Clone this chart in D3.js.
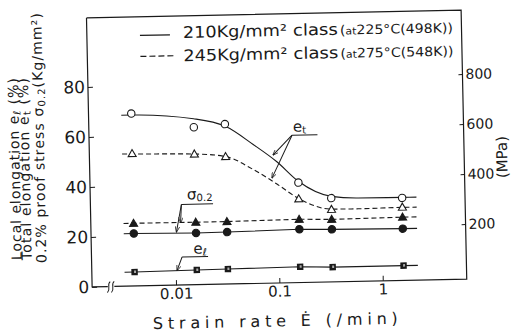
<!DOCTYPE html>
<html>
<head>
<meta charset="utf-8">
<script src="https://cdn.jsdelivr.net/npm/d3@7/dist/d3.min.js"></script>
<style>
  body { margin: 0; background: #fff; }
  svg { display: block; font-family: "DejaVu Sans", sans-serif; }
</style>
</head>
<body>
<svg id="chart" width="512" height="333"></svg>
<script>
// strain rate of the test points (/min)
const rates = [0.004, 0.016, 0.032, 0.16, 0.33, 1.6];
// total elongation et (%)
const et210 = [69, 63, 64, 40, 33.5, 33];
const et245 = [53, 52.3, 51, 33.5, 29, 29.3];
// 0.2% proof stress (kg/mm2)
const proof210 = [21, 20.7, 20.8, 21.3, 21, 20.7];
const proof245 = [25.1, 25, 25, 25.3, 25, 25.3];
// local elongation el (%)
const elocal = [5.6, 5.9, 6, 6.3, 5.9, 5.9];

// the hand drawn et curves
const fitRates = [0.0032, 0.004, 0.016, 0.032, 0.06, 0.1, 0.16, 0.33, 0.6, 1.6, 2.2];
const fitEt210 = [68.4, 68.4, 66.4, 63.2, 55.5, 48.5, 40.5, 34.2, 33.3, 33.2, 33.2];
const fitEt245 = [52.9, 52.8, 52.3, 51, 45.4, 39.5, 33.6, 29.1, 29, 29.2, 29.2];
// where the flat lines start and stop
const lineFrom = 0.0032, lineTo = 2.2;

// ticks
const xTicks = [0.01, 0.1, 1];
const xTickLabels = ["0.01", "0.1", "1"];
const yTicks = [0, 20, 40, 60, 80];
const mpaTicks = [200, 400, 600, 800];

// leader notes (rate, value)
const etLeader = [[0.25, 59], [0.142, 59]];
const etTips = [[0.092, 51.2], [0.089, 42]];
const etLabel = [0.145, 60.4];
const sigLeader = [[0.0237, 32.2], [0.0117, 32.2]];
const sigTips = [[0.01035, 21.2], [0.0114, 24.8]];
const sigLabel = [0.0133, 34.2];
const elLeader = [[0.0207, 11.2], [0.0116, 11.2]];
const elTips = [[0.0103, 5.8]];
const elLabel = [0.015, 12.4];

// plot box
const boxL = 89.3, boxR = 464, boxT = 14, boxB = 283;

const x = d3.scaleLog().domain([0.01, 1]).range([173.2, 380]);
const y = d3.scaleLinear().domain([0, 80]).range([283, 83]);
const yMpa = d3.scaleLinear().domain([0, 800]).range([278, 78]);

const ink = "#1a1a1a";
const svg = d3.select("#chart");

// arrow head for the leaders
svg.append("defs").append("marker")
    .attr("id", "arr")
    .attr("viewBox", "0 0 8 6")
    .attr("refX", 7.5).attr("refY", 3)
    .attr("markerWidth", 6).attr("markerHeight", 5)
    .attr("markerUnits", "userSpaceOnUse")
    .attr("orient", "auto")
  .append("path")
    .attr("d", "M0,0 L8,3 L0,6")
    .attr("fill", "none")
    .attr("stroke", ink)
    .attr("stroke-width", 1);

// the scan is a little tilted, so is the whole drawing
const g = svg.append("g").attr("transform", "rotate(-1.2, 277, 150)");

// frame, with the break on the bottom axis
g.append("path")
    .attr("d", `M${boxL},${boxT} H${boxR} V${boxB} H111.5 M105,${boxB} H${boxL} V${boxT}`)
    .attr("fill", "none").attr("stroke", ink).attr("stroke-width", 1.2);
[106, 110].forEach(bx => {
  g.append("path")
    .attr("d", `M${bx + 1.5},${boxB - 5} C${bx - 2.5},${boxB - 2} ${bx + 2.5},${boxB + 2} ${bx - 1.5},${boxB + 6}`)
    .attr("fill", "none").attr("stroke", ink).attr("stroke-width", 1);
});

// axes
const yAxis = g.append("g")
    .attr("transform", `translate(${boxL},0)`)
    .call(d3.axisLeft(y).tickValues(yTicks).tickSize(-5).tickPadding(3));
yAxis.selectAll("text").attr("font-size", 17);

const rAxis = g.append("g")
    .attr("transform", `translate(${boxR},0)`)
    .call(d3.axisRight(yMpa).tickValues(mpaTicks).tickSize(-4).tickPadding(3));
rAxis.selectAll("text").attr("font-size", 14);

const xAxis = g.append("g")
    .attr("transform", `translate(0,${boxB})`)
    .call(d3.axisBottom(x).tickValues(xTicks).tickFormat((d, i) => xTickLabels[i]).tickSize(-5).tickPadding(3));
xAxis.selectAll("text").attr("font-size", 15);

[yAxis, rAxis, xAxis].forEach(a => {
  a.select(".domain").remove();
  a.selectAll("line").attr("stroke", ink);
  a.selectAll("text").attr("fill", ink).attr("font-family", "DejaVu Sans");
});

// lines
const line = d3.line().x(d => x(d[0])).y(d => y(d[1]));
const smooth = d3.line().x(d => x(d[0])).y(d => y(d[1])).curve(d3.curveMonotoneX);
const flat = vals => [[lineFrom, vals[0]], ...rates.map((r, i) => [r, vals[i]]), [lineTo, vals[vals.length - 1]]];

function drawLine(data, gen, dashed) {
  g.append("path")
    .attr("d", gen(data))
    .attr("fill", "none")
    .attr("stroke", ink)
    .attr("stroke-width", 1.1)
    .attr("stroke-dasharray", dashed ? "5,3" : null);
}
drawLine(fitRates.map((r, i) => [r, fitEt210[i]]), smooth, false);
drawLine(fitRates.map((r, i) => [r, fitEt245[i]]), smooth, true);
drawLine(flat(proof210), line, false);
drawLine(flat(proof245), line, true);
drawLine(flat(elocal), line, false);

// markers
const tri = "M0,-4 L4,3 L-4,3 Z";
function drawMarks(vals, kind) {
  const m = g.append("g").selectAll("g")
    .data(rates.map((r, i) => [r, vals[i]]))
    .join("g")
      .attr("transform", d => `translate(${x(d[0])},${y(d[1])})`);
  if (kind === "circle" || kind === "dot") {
    m.append("circle").attr("r", 3.7)
      .attr("fill", kind === "dot" ? ink : "#fff")
      .attr("stroke", ink).attr("stroke-width", 1.1);
  } else if (kind === "tri" || kind === "ftri") {
    m.append("path").attr("d", tri)
      .attr("fill", kind === "ftri" ? ink : "#fff")
      .attr("stroke", ink).attr("stroke-width", 1.1);
  } else {
    m.append("rect").attr("x", -3.2).attr("y", -3.2).attr("width", 6.4).attr("height", 6.4)
      .attr("fill", ink);
    m.append("rect").attr("x", -0.5).attr("y", -1.5).attr("width", 2).attr("height", 2.5)
      .attr("fill", "#aaa");
  }
}
drawMarks(et210, "circle");
drawMarks(et245, "tri");
drawMarks(proof245, "ftri");
drawMarks(proof210, "dot");
drawMarks(elocal, "square");

// leaders with their labels
function leader(pts, tips) {
  g.append("path")
    .attr("d", line(pts))
    .attr("fill", "none").attr("stroke", ink).attr("stroke-width", 1);
  tips.forEach(t => {
    g.append("path")
      .attr("d", line([pts[1], t]))
      .attr("fill", "none").attr("stroke", ink).attr("stroke-width", 1)
      .attr("marker-end", "url(#arr)");
  });
}
leader(etLeader, etTips);
leader(sigLeader, sigTips);
leader(elLeader, elTips);

function subLabel(at, main, sub, size) {
  const t = g.append("text")
    .attr("x", x(at[0])).attr("y", y(at[1]))
    .attr("font-size", size).attr("fill", ink);
  t.append("tspan").text(main);
  t.append("tspan").attr("font-size", size * 0.68).attr("dy", 2).text(sub);
}
subLabel(etLabel, "e", "t", 15);
subLabel(sigLabel, "σ", "0.2", 15);
subLabel(elLabel, "e", "ℓ", 15);

// legend
g.append("line").attr("x1", 142.4).attr("x2", 172.4).attr("y1", 32.6).attr("y2", 32.6)
    .attr("stroke", ink).attr("stroke-width", 1.2);
g.append("line").attr("x1", 142.4).attr("x2", 177.4).attr("y1", 53.6).attr("y2", 53.6)
    .attr("stroke", ink).attr("stroke-width", 1.2).attr("stroke-dasharray", "6,3");

const legendRows = [
  { y: 36, strength: "210Kg/mm²", temp: "225°C(498K))" },
  { y: 59.3, strength: "245Kg/mm²", temp: "275°C(548K))" }
];
legendRows.forEach(row => {
  g.append("text").attr("x", 185.4).attr("y", row.y)
    .attr("font-size", 16).attr("fill", ink)
    .attr("textLength", 104).attr("lengthAdjust", "spacingAndGlyphs")
    .text(row.strength);
  g.append("text").attr("x", 295.4).attr("y", row.y)
    .attr("font-size", 16).attr("fill", ink)
    .attr("textLength", 45).attr("lengthAdjust", "spacingAndGlyphs")
    .text("class");
  const t = g.append("text").attr("x", 342.4).attr("y", row.y)
    .attr("font-size", 13).attr("fill", ink)
    .attr("textLength", 113).attr("lengthAdjust", "spacingAndGlyphs");
  t.append("tspan").text("(");
  t.append("tspan").attr("font-size", 10).text("at");
  t.append("tspan").text(row.temp);
});

// axis titles
const yTitles = [
  { u: 19.4, v: 254.6, len: 182, parts: [["Local elongation  e", 0], ["ℓ", 1], [" (%)", 0]] },
  { u: 29.4, v: 254.8, len: 182, parts: [["Total elongation  e", 0], ["t", 1], [" (%)", 0]] },
  { u: 44.1, v: 258.2, len: 250, parts: [["0.2% proof stress  σ", 0], ["0.2", 1], ["(Kg/mm²)", 0]] }
];
yTitles.forEach(tl => {
  const t = g.append("text")
    .attr("transform", `translate(${tl.u},${tl.v}) rotate(-90)`)
    .attr("font-size", 14).attr("fill", ink)
    .attr("textLength", tl.len).attr("lengthAdjust", "spacing");
  let sub = false;
  tl.parts.forEach(p => {
    const s = t.append("tspan").text(p[0]);
    if (p[1] && !sub) { s.attr("font-size", 10).attr("dy", 2); sub = true; }
    else if (!p[1] && sub) { s.attr("dy", -2); sub = false; }
  });
});

g.append("text")
    .attr("transform", "translate(507,161.8) rotate(-90)")
    .attr("text-anchor", "middle")
    .attr("font-size", 15).attr("fill", ink)
    .text("(MPa)");

g.append("text")
    .attr("x", 149.2).attr("y", 326.4)
    .attr("font-size", 16).attr("fill", ink)
    .attr("textLength", 245).attr("lengthAdjust", "spacing")
    .text("Strain  rate  Ė (/min)");
</script>
</body>
</html>
